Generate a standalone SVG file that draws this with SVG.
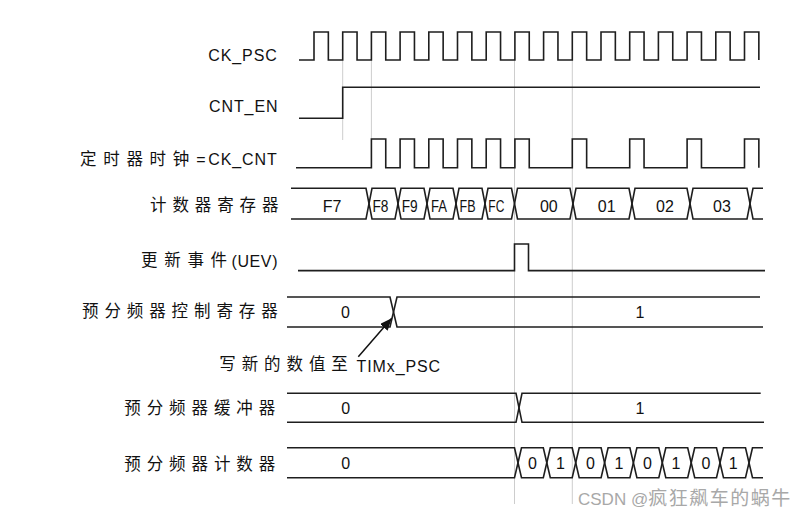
<svg xmlns="http://www.w3.org/2000/svg" width="808" height="517" viewBox="0 0 808 517">
<style>
.w{fill:none;stroke:#1e1e1e;stroke-width:1.6;stroke-linejoin:miter}
.g{fill:none;stroke:#cdcdcd;stroke-width:1}
.lat{font-family:"Liberation Sans",Arial,sans-serif;font-size:16px;letter-spacing:0.9px;fill:#111}
.cjk{font-family:"Noto Sans CJK SC",sans-serif;font-size:16.5px;letter-spacing:5.9px;fill:#111}
.v{font-family:"Liberation Sans",Arial,sans-serif;font-size:16px;text-anchor:middle;fill:#111}
.wm{font-family:"Liberation Sans","Noto Sans CJK SC",sans-serif;fill:#a8a8a8}
</style>
<defs>
<marker id="ah" viewBox="0 0 12 10" refX="12" refY="5" markerWidth="12" markerHeight="10" markerUnits="userSpaceOnUse" orient="auto">
<path d="M0,0 L12,5 L0,10 Z" fill="#111"/>
</marker>
</defs>
<rect width="808" height="517" fill="#fff"/>

<g id="guides">
<line class="g" x1="342.7" y1="60" x2="342.7" y2="140"/>
<line class="g" x1="371.4" y1="60" x2="371.4" y2="139"/>
<line class="g" x1="514.5" y1="60" x2="514.5" y2="504"/>
<line class="g" x1="572.3" y1="60" x2="572.3" y2="504"/>
</g>

<g id="ck_psc">
<text class="lat" x="208.3" y="60.7">CK_PSC</text>
<path class="w" d="M299,60 H314 V32 H328.35 V60 H342.7 V32 H357.05 V60 H371.4 V32 H385.75 V60 H400.1 V32 H414.45 V60 H428.8 V32 H443.15 V60 H457.5 V32 H471.85 V60 H486.2 V32 H500.55 V60 H514.9 V32 H529.25 V60 H543.6 V32 H557.95 V60 H572.3 V32 H586.65 V60 H601 V32 H615.35 V60 H629.7 V32 H644.05 V60 H658.4 V32 H672.75 V60 H687.1 V32 H701.45 V60 H715.8 V32 H730.15 V60 H744.5 V32 H758.85 V60"/>
</g>

<g id="cnt_en">
<text class="lat" x="209" y="111.7">CNT_EN</text>
<path class="w" d="M299,118.3 H342.7 V87.3 H760"/>
</g>

<g id="ck_cnt">
<text class="cjk" x="80" y="165" style="letter-spacing:6.7px">定时器时钟</text>
<text class="lat" x="196.2" y="165">=</text>
<text class="lat" x="208.3" y="165">CK_CNT</text>
<path class="w" d="M296,167.7 H371.4 V139 H385.75 V167.7 H400.1 V139 H414.45 V167.7 H428.8 V139 H443.15 V167.7 H457.5 V139 H471.85 V167.7 H486.2 V139 H500.55 V167.7 H514.9 V139 H529.25 V167.7 H572.3 V139 H586.65 V167.7 H629.7 V139 H644.05 V167.7 H687.1 V139 H701.45 V167.7 H744.5 V139 H758.85 V167.7"/>
</g>

<g id="counter_reg">
<text class="cjk" x="150" y="210.5">计数器寄存器</text>
<path class="w" d="M291,188.3 H366 L369,203.6 L366,219 H291"/>
<path class="w" d="M369,203.6 L372,188.3 H395 L398,203.6 L395,219 H372 Z"/>
<path class="w" d="M398,203.6 L401,188.3 H424 L427,203.6 L424,219 H401 Z"/>
<path class="w" d="M427,203.6 L430,188.3 H453 L456,203.6 L453,219 H430 Z"/>
<path class="w" d="M456,203.6 L459,188.3 H482 L485,203.6 L482,219 H459 Z"/>
<path class="w" d="M485,203.6 L488,188.3 H511.5 L514.5,203.6 L511.5,219 H488 Z"/>
<path class="w" d="M514.5,203.6 L517.5,188.3 H570 L573,203.6 L570,219 H517.5 Z"/>
<path class="w" d="M573,203.6 L576,188.3 H629 L632,203.6 L629,219 H576 Z"/>
<path class="w" d="M632,203.6 L635,188.3 H687 L690,203.6 L687,219 H635 Z"/>
<path class="w" d="M690,203.6 L693,188.3 H747 L750,203.6 L747,219 H693 Z"/>
<path class="w" d="M763,188.3 H753 L750,203.6 L753,219 H763"/>
<text class="v" x="332" y="212.3">F7</text>
<text class="v" x="380.5" y="212.3" textLength="16" lengthAdjust="spacingAndGlyphs">F8</text>
<text class="v" x="409.7" y="212.3" textLength="16" lengthAdjust="spacingAndGlyphs">F9</text>
<text class="v" x="439" y="212.3" textLength="16" lengthAdjust="spacingAndGlyphs">FA</text>
<text class="v" x="467.5" y="212.3" textLength="16" lengthAdjust="spacingAndGlyphs">FB</text>
<text class="v" x="496.3" y="212.3" textLength="16" lengthAdjust="spacingAndGlyphs">FC</text>
<text class="v" x="548.8" y="212.3">00</text>
<text class="v" x="606.7" y="212.3">01</text>
<text class="v" x="665" y="212.3">02</text>
<text class="v" x="722" y="212.3">03</text>
</g>

<g id="uev">
<text class="cjk" x="141" y="266" style="letter-spacing:6.7px">更新事件</text>
<text class="lat" x="231.5" y="266.5" style="letter-spacing:0.6px">(UEV)</text>
<path class="w" d="M298,270.6 H514.5 V244 H528.5 V270.6 H765"/>
</g>

<g id="psc_ctrl">
<text class="cjk" x="82" y="317">预分频器控制寄存器</text>
<path class="w" d="M287,297 H390 L397,327 H763"/>
<path class="w" d="M287,327 H390 L397,297 H760"/>
<text class="v" x="345.5" y="318.3">0</text>
<text class="v" x="640" y="318.3">1</text>
</g>

<g id="psc_buf">
<text class="cjk" x="124.3" y="413.5">预分频器缓冲器</text>
<path class="w" d="M287,393.3 H516 L522,422.3 H764"/>
<path class="w" d="M287,422.3 H516 L522,393.3 H760.7"/>
<text class="v" x="345.8" y="414.3">0</text>
<text class="v" x="640" y="414.3">1</text>
</g>

<g id="psc_cnt">
<text class="cjk" x="124.3" y="470">预分频器计数器</text>
<path class="w" d="M287,447.7 H514.5 L518,462.7 L514.5,477.7 H287"/>
<path class="w" d="M518,462.7 L521.5,447.7 H543.3 L546.8,462.7 L543.3,477.7 H521.5 Z"/>
<path class="w" d="M546.8,462.7 L550.3,447.7 H572.2 L575.7,462.7 L572.2,477.7 H550.3 Z"/>
<path class="w" d="M575.7,462.7 L579.2,447.7 H601.1 L604.6,462.7 L601.1,477.7 H579.2 Z"/>
<path class="w" d="M604.6,462.7 L608.1,447.7 H629.9 L633.4,462.7 L629.9,477.7 H608.1 Z"/>
<path class="w" d="M633.4,462.7 L636.9,447.7 H658.8 L662.3,462.7 L658.8,477.7 H636.9 Z"/>
<path class="w" d="M662.3,462.7 L665.8,447.7 H687.7 L691.2,462.7 L687.7,477.7 H665.8 Z"/>
<path class="w" d="M691.2,462.7 L694.7,447.7 H716.5 L720,462.7 L716.5,477.7 H694.7 Z"/>
<path class="w" d="M720,462.7 L723.5,447.7 H745.5 L749,462.7 L745.5,477.7 H723.5 Z"/>
<path class="w" d="M763,447.7 H752.5 L749,462.7 L752.5,477.7 H763"/>
<text class="v" x="345.8" y="469.4">0</text>
<text class="v" x="532.5" y="469.4">0</text>
<text class="v" x="560.5" y="469.4">1</text>
<text class="v" x="590.5" y="469.4">0</text>
<text class="v" x="619" y="469.4">1</text>
<text class="v" x="647.5" y="469.4">0</text>
<text class="v" x="676" y="469.4">1</text>
<text class="v" x="706" y="469.4">0</text>
<text class="v" x="733.3" y="469.4">1</text>
</g>

<g id="note">
<text class="cjk" x="219.3" y="370.3">写新的数值至</text>
<text class="lat" x="356.5" y="371.6">TIMx_PSC</text>
</g>

<g id="connectors">
<line x1="358.3" y1="356.7" x2="391.7" y2="318.3" stroke="#111" stroke-width="1.5" marker-end="url(#ah)"/>
</g>

<text class="wm" x="578" y="505" font-size="17">CSDN @<tspan font-family="Noto Sans CJK SC" font-size="19" letter-spacing="1.5">疯狂飙车的蜗牛</tspan></text>
</svg>
